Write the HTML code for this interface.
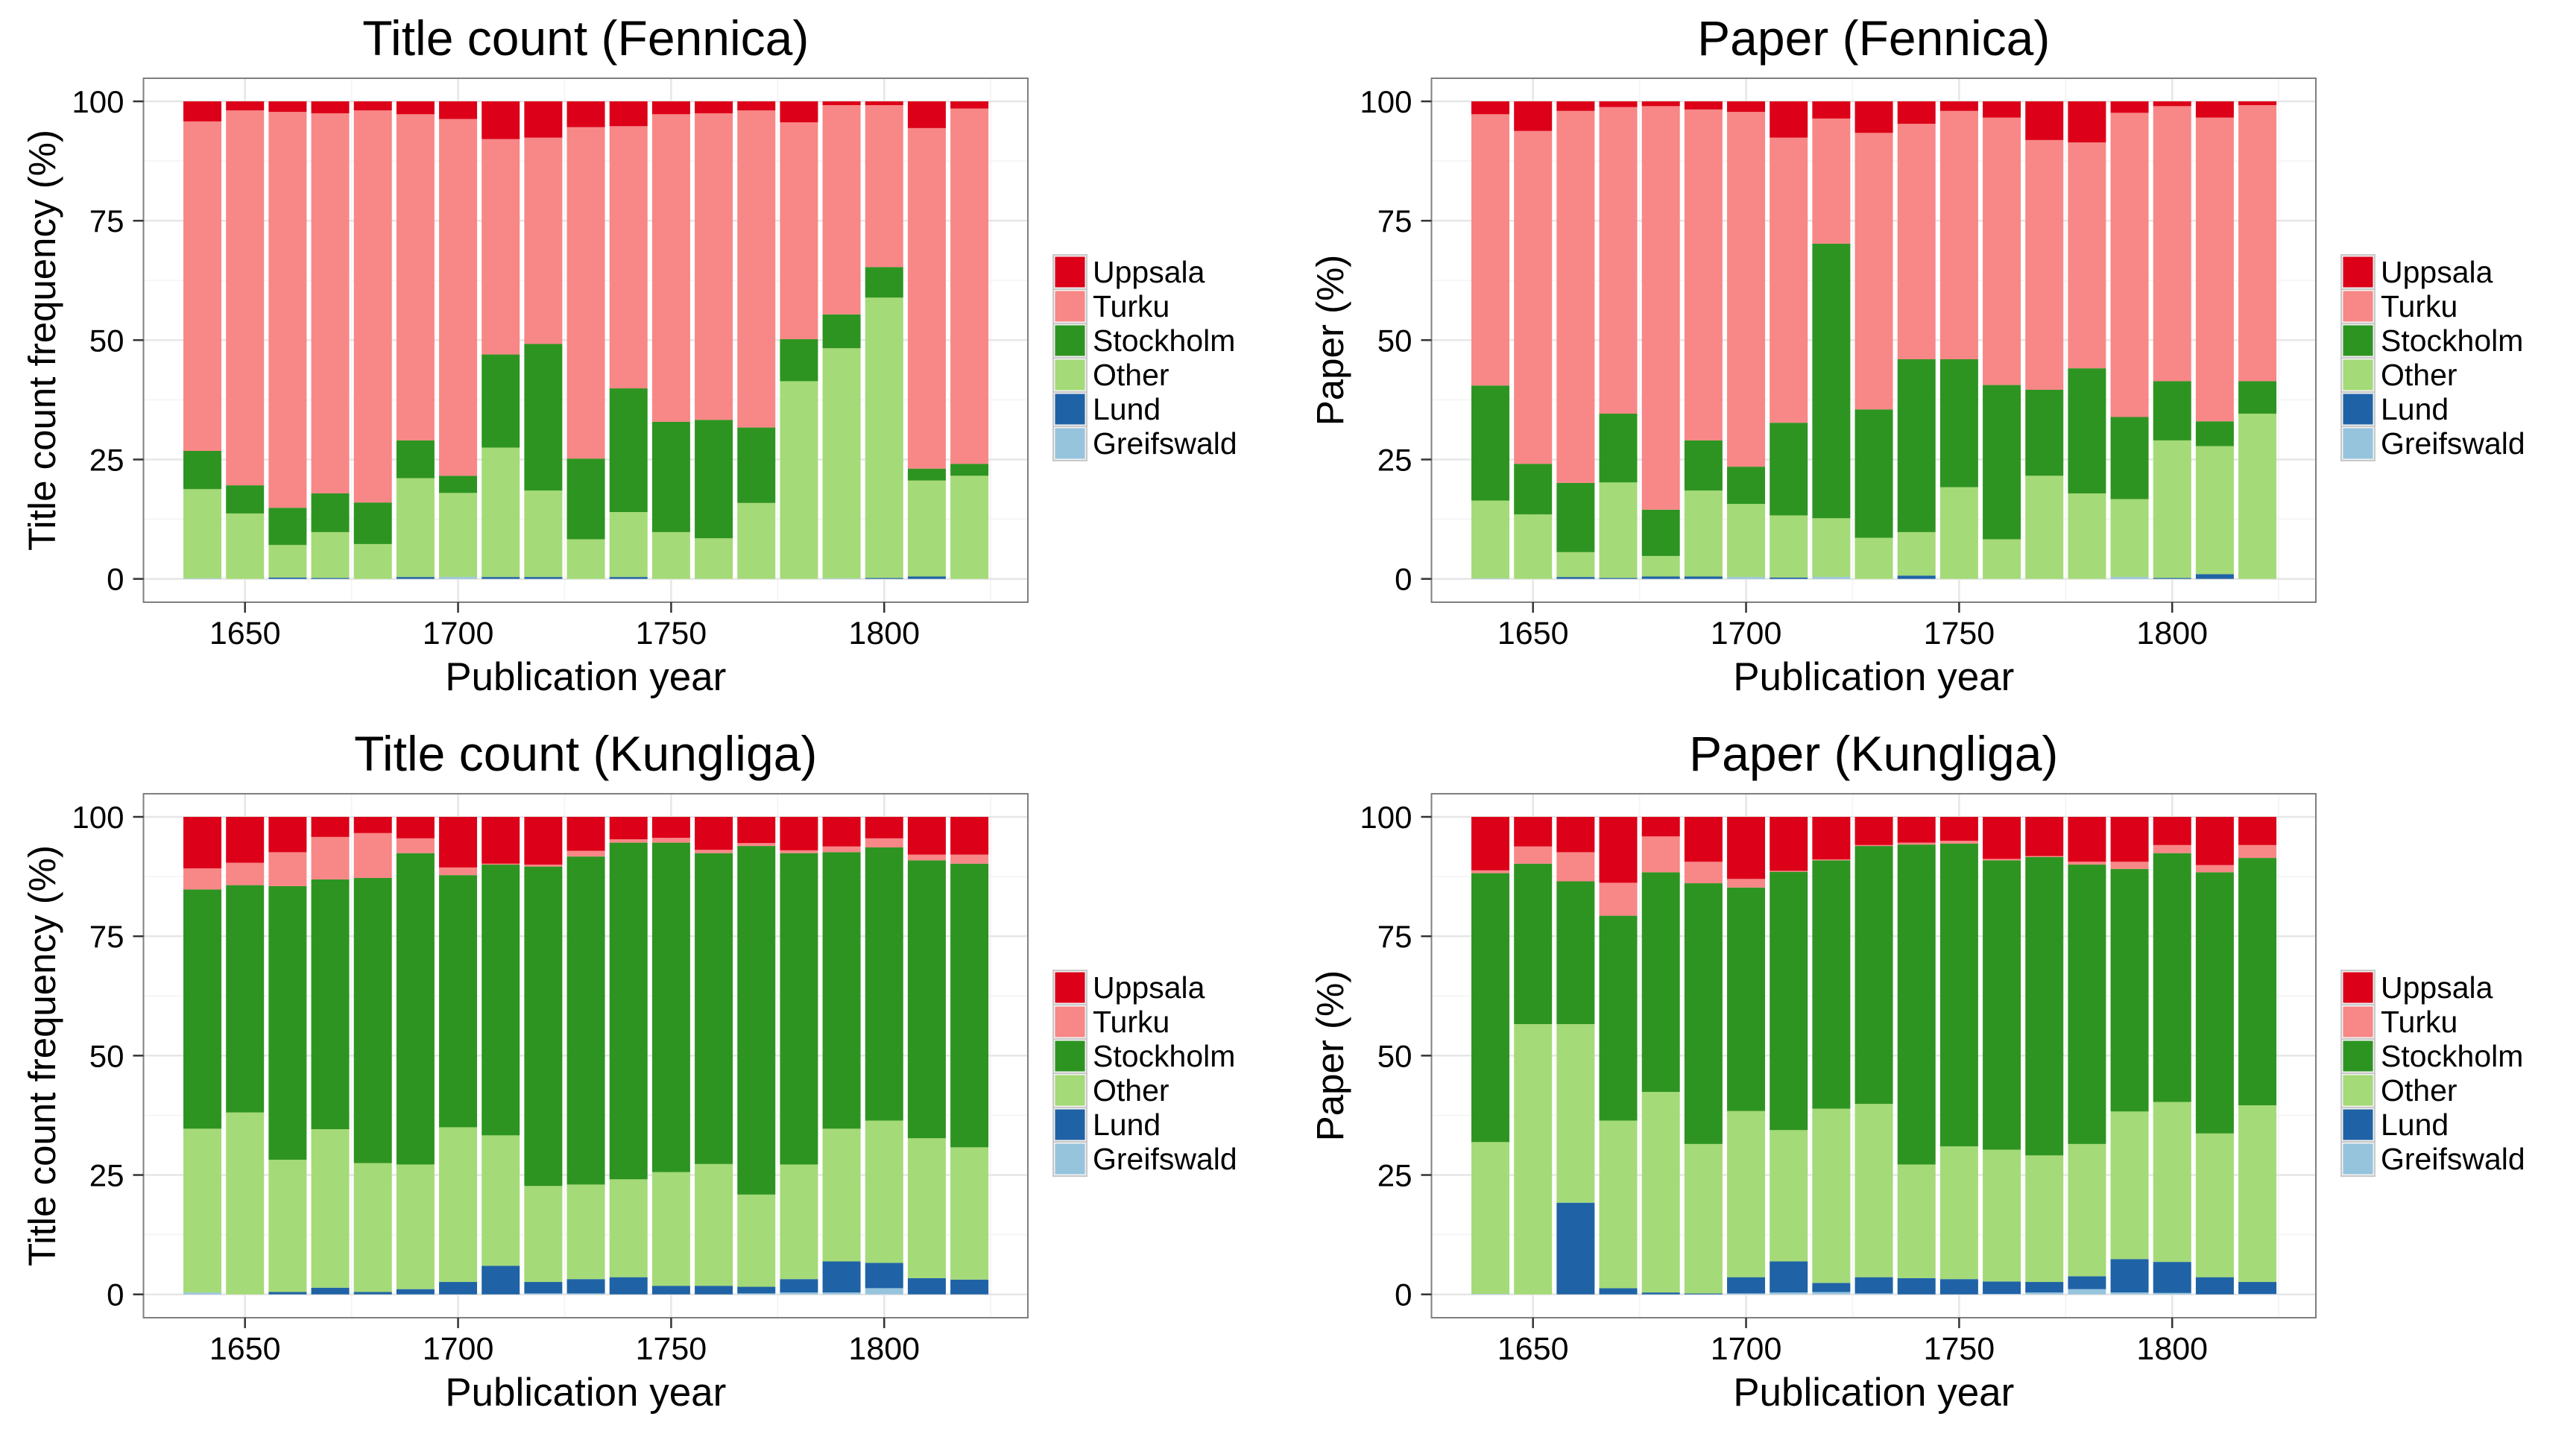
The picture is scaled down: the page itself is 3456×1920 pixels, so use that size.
<!DOCTYPE html>
<html><head><meta charset="utf-8">
<style>
html,body{margin:0;padding:0;background:#fff;}
svg{display:block;font-family:"Liberation Sans",Arial,sans-serif;}
</style></head>
<body>
<svg id="chart" width="3456" height="1920" viewBox="0 0 3456 1920" xmlns="http://www.w3.org/2000/svg"></svg>
<script>
// Shared data
const years = [1640,1650,1660,1670,1680,1690,1700,1710,1720,1730,1740,1750,1760,1770,1780,1790,1800,1810,1820];
const categories = ["Greifswald","Lund","Other","Stockholm","Turku","Uppsala"];
const legendOrder = ["Uppsala","Turku","Stockholm","Other","Lund","Greifswald"];
const yTicks = [0,25,50,75,100];
const xTicks = [1650,1700,1750,1800];

// Cumulative stack tops (%) per series, bottom to top. Uppsala fills to 100.
// Panel 1: Title count (Fennica)
const tcfGreif = [0.1,0,0,0,0,0,0.4,0,0,0,0,0,0,0,0,0.1,0,0,0];
const tcfLund  = [0.1,0,0.3,0.2,0,0.4,0.4,0.4,0.4,0,0.4,0,0,0,0,0.1,0.2,0.5,0];
const tcfOther = [18.8,13.7,7.1,9.8,7.3,21.1,18,27.5,18.5,8.3,14,9.8,8.5,15.9,41.4,48.3,58.9,20.6,21.6];
const tcfStock = [26.8,19.6,14.9,17.9,16,29,21.6,47,49.2,25.2,39.9,32.9,33.3,31.7,50.2,55.4,65.3,23.1,24.1];
const tcfTurku = [95.8,98.1,97.8,97.5,98.1,97.3,96.3,92.1,92.4,94.6,94.8,97.3,97.5,98.1,95.6,99.2,99.2,94.4,98.5];
// Panel 2: Paper (Fennica)
const pfGreif = [0.1,0,0,0,0,0,0.4,0,0.4,0,0,0,0,0,0,0.4,0,0,0];
const pfLund  = [0.1,0,0.4,0.2,0.5,0.5,0.4,0.3,0.4,0,0.7,0,0,0,0,0.4,0.2,1.0,0];
const pfOther = [16.4,13.5,5.6,20.2,4.8,18.5,15.7,13.3,12.7,8.6,9.8,19.2,8.3,21.6,17.9,16.7,29,27.8,34.6];
const pfStock = [40.5,24.1,20.1,34.6,14.5,29,23.5,32.7,70.2,35.5,46,46,40.6,39.6,44.1,33.9,41.4,33,41.4];
const pfTurku = [97.3,93.8,98,98.8,99,98.3,97.8,92.4,96.4,93.4,95.3,98,96.6,91.9,91.4,97.6,99,96.6,99.2];
// Panel 3: Title count (Kungliga)
const tckGreif = [0.4,0,0,0,0,0,0,0,0.2,0.2,0,0,0,0.2,0.4,0.4,1.3,0,0];
const tckLund  = [0.4,0,0.5,1.4,0.5,1.1,2.6,6,2.6,3.2,3.6,1.8,1.8,1.6,3.2,6.9,6.6,3.4,3.1];
const tckOther = [34.7,38.1,28.2,34.6,27.5,27.2,35,33.3,22.7,23,24.1,25.6,27.3,20.9,27.2,34.7,36.4,32.7,30.8];
const tckStock = [84.8,85.7,85.5,86.9,87.2,92.4,87.8,90,89.6,91.7,94.6,94.6,92.4,93.9,92.4,92.6,93.6,90.9,90.2];
const tckTurku = [89.2,90.4,92.6,95.8,96.6,95.5,89.4,90.2,90,92.9,95.3,95.6,93.1,94.5,93,93.8,95.5,92.1,92.1];
// Panel 4: Paper (Kungliga)
const pkGreif = [0.1,0,0,0,0,0,0.2,0.4,0.5,0.2,0,0,0.1,0.4,1.1,0.4,0.3,0,0.1];
const pkLund  = [0.1,0,19.2,1.3,0.4,0.2,3.6,6.9,2.4,3.6,3.4,3.2,2.7,2.6,3.8,7.4,6.8,3.6,2.6];
const pkOther = [31.9,56.6,56.6,36.4,42.4,31.5,38.4,34.4,38.9,39.9,27.2,31,30.3,29.1,31.5,38.3,40.3,33.7,39.6];
const pkStock = [88.2,90.2,86.5,79.3,88.4,86.1,85.2,88.5,90.9,93.9,94.2,94.4,90.9,91.6,90,89.1,92.4,88.4,91.4];
const pkTurku = [88.8,93.8,92.6,86.2,95.9,90.6,87,88.7,91.1,94.1,94.6,95,91.2,91.8,90.6,90.6,94.1,89.9,94.1];
const uppsalaTop = [100,100,100,100,100,100,100,100,100,100,100,100,100,100,100,100,100,100,100];

const colors = {Greifswald:"#96c4dd",Lund:"#1f63a6",Other:"#a5da78",Stockholm:"#2e9421",Turku:"#f88787",Uppsala:"#dc0018"};

const panels = [
  {title:"Title count (Fennica)", ylab:"Title count frequency (%)", ox:0, oy:0, key:"tcf", series:[tcfGreif,tcfLund,tcfOther,tcfStock,tcfTurku,uppsalaTop]},
  {title:"Paper (Fennica)", ylab:"Paper (%)", ox:1728, oy:0, key:"pf", series:[pfGreif,pfLund,pfOther,pfStock,pfTurku,uppsalaTop]},
  {title:"Title count (Kungliga)", ylab:"Title count frequency (%)", ox:0, oy:960, key:"tck", series:[tckGreif,tckLund,tckOther,tckStock,tckTurku,uppsalaTop]},
  {title:"Paper (Kungliga)", ylab:"Paper (%)", ox:1728, oy:960, key:"pk", series:[pkGreif,pkLund,pkOther,pkStock,pkTurku,uppsalaTop]}
];

const NS = "http://www.w3.org/2000/svg";
const svg = document.getElementById("chart");
function mk(tag, attrs, parent){
  const e = document.createElementNS(NS, tag);
  for (const k in attrs) e.setAttribute(k, attrs[k]);
  (parent||svg).appendChild(e);
  return e;
}
function txt(s, attrs, parent){ const e = mk("text", attrs, parent); e.textContent = s; return e; }

const PL=192.5, PR=1379, PT=105, PB=808;
function xs(yr){ return 328.7 + (yr-1650)*5.717; }
function ys(v){ return 776.7 - v*6.407; }
const BW = 51;
const CX = (PL+PR)/2;

panels.forEach(p => {
  const g = mk("g", {transform:`translate(${p.ox},${p.oy})`});
  
  

  mk("rect",{x:PL,y:PT,width:PR-PL,height:PB-PT,fill:"#fff"},g);
  const minorY = [12.5,37.5,62.5,87.5];
  minorY.forEach(v=>mk("line",{x1:PL,x2:PR,y1:ys(v),y2:ys(v),stroke:"#f5f5f5","stroke-width":2},g));
  const minorX = [1625,1675,1725,1775,1825];
  minorX.forEach(v=>{ const x=xs(v); if(x>PL&&x<PR) mk("line",{x1:x,x2:x,y1:PT,y2:PB,stroke:"#f5f5f5","stroke-width":2},g);});
  yTicks.forEach(v=>mk("line",{x1:PL,x2:PR,y1:ys(v),y2:ys(v),stroke:"#e6e6e6","stroke-width":2.5},g));
  xTicks.forEach(v=>mk("line",{x1:xs(v),x2:xs(v),y1:PT,y2:PB,stroke:"#e6e6e6","stroke-width":2.5},g));

  years.forEach((yr,i)=>{
    let prev = 0;
    p.series.forEach((arr,si)=>{
      const top = arr[i];
      const lo = Math.max(prev, 0);
      if (top > lo) {
        const r = mk("rect",{x:xs(yr)-BW/2,y:ys(top),width:BW,height:ys(lo)-ys(top),fill:colors[categories[si]]},g);
        
        
      }
      prev = Math.max(prev, top);
    });
  });

  mk("rect",{x:PL,y:PT,width:PR-PL,height:PB-PT,fill:"none",stroke:"#7f7f7f","stroke-width":2},g);

  yTicks.forEach(v=>{
    mk("line",{x1:PL-14,x2:PL,y1:ys(v),y2:ys(v),stroke:"#333","stroke-width":2.5},g);
    const t = txt(String(v),{x:166.5,y:ys(v)+15,"text-anchor":"end","font-size":42,fill:"#000"},g);
    
    
  });
  xTicks.forEach(v=>{
    mk("line",{x1:xs(v),x2:xs(v),y1:PB,y2:PB+14,stroke:"#333","stroke-width":2.5},g);
    const t = txt(String(v),{x:xs(v),y:864,"text-anchor":"middle","font-size":43,fill:"#000"},g);
    
    
  });

  const tt = txt(p.title,{x:CX,y:74,"text-anchor":"middle","font-size":66,fill:"#000"},g);
  
  
  const xt = txt("Publication year",{x:CX,y:926,"text-anchor":"middle","font-size":53,fill:"#000"},g);
  
  
  const yt = txt(p.ylab,{x:0,y:0,"text-anchor":"middle","font-size":51,fill:"#000",transform:`translate(74,${(PT+PB)/2}) rotate(-90)`},g);
  
  

  legendOrder.forEach((c,k)=>{
    const y0 = 342 + k*46;
    const lg = mk("g",{},g);
    
    
    mk("rect",{x:1413,y:y0,width:45,height:46,fill:"#f2f2f2",stroke:"#c8c8c8","stroke-width":2},lg);
    mk("rect",{x:1415.5,y:y0+2.5,width:40,height:41,fill:colors[c]},lg);
    txt(c,{x:1466,y:y0+37,"font-size":41,fill:"#000"},lg);
  });
});
</script>
</body></html>
